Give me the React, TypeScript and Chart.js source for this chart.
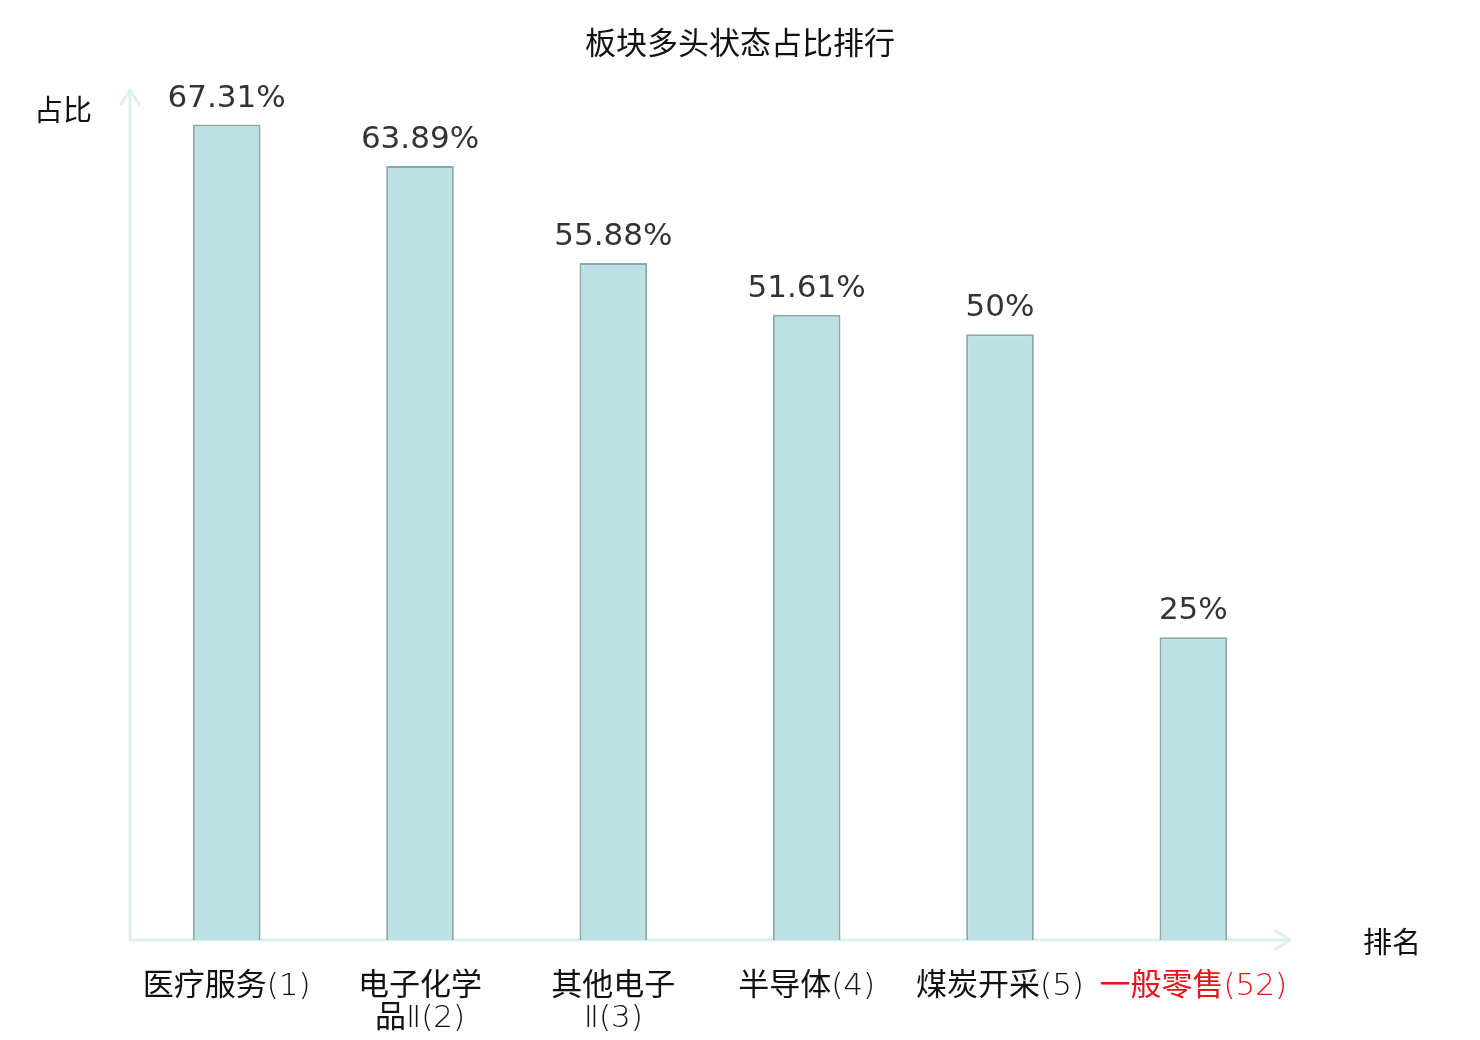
import React, { useEffect, useRef } from "react";
import { Chart, registerables } from "chart.js";

Chart.register(...registerables);

// sector names (rank in brackets), the last one is highlighted
const categories: string[][] = [
    ["医疗服务(1)"],
    ["电子化学", "品Ⅱ(2)"],
    ["其他电子", "Ⅱ(3)"],
    ["半导体(4)"],
    ["煤炭开采(5)"],
    ["一般零售(52)"],
];
const ratios = [67.31, 63.89, 55.88, 51.61, 50, 25];
const labelColors = ["#111", "#111", "#111", "#111", "#111", "#e5141b"];

const AXIS_COLOR = "#dcf1ee";
const CJK_FONT = "31px 'Noto Sans CJK SC'";
const LATIN_FONT = "200 31px 'DejaVu Sans'";

// split a label line into runs of CJK and non-CJK text
const splitRuns = (text: string) => {
    const runs: { text: string; cjk: boolean }[] = [];
    for (const ch of text) {
        const cjk = /[\u4e00-\u9fff]/.test(ch);
        const last = runs[runs.length - 1];
        if (last && last.cjk === cjk) last.text += ch;
        else runs.push({ text: ch, cjk });
    }
    return runs;
};

// draws title, arrowed axes, axis names, category and value labels
const decorations = {
    id: "decorations",
    beforeDatasetsDraw: (chart: any) => {
        const { ctx, chartArea, width } = chart;
        const { left, right, top, bottom } = chartArea;
        ctx.save();
        ctx.fillStyle = "#111";
        ctx.textAlign = "center";
        ctx.textBaseline = "middle";
        ctx.font = "31px 'Noto Sans CJK SC'";
        ctx.fillText("板块多头状态占比排行", width / 2, 42);

        ctx.strokeStyle = AXIS_COLOR;
        ctx.lineWidth = 3;
        ctx.lineCap = "round";
        ctx.lineJoin = "round";
        // y axis
        ctx.beginPath();
        ctx.moveTo(left, bottom);
        ctx.lineTo(left, top - 2);
        ctx.moveTo(left - 9, top + 12);
        ctx.lineTo(left, top - 2);
        ctx.lineTo(left + 9, top + 12);
        // x axis
        ctx.moveTo(left, bottom);
        ctx.lineTo(right, bottom);
        ctx.moveTo(right - 14, bottom - 9);
        ctx.lineTo(right, bottom);
        ctx.lineTo(right - 14, bottom + 9);
        ctx.stroke();

        ctx.font = "29px 'Noto Sans CJK SC'";
        ctx.fillText("占比", left - 67, top + 18);
        ctx.fillText("排名", right + 102, bottom + 2);

        // category labels, mixed fonts like the original
        const xScale = chart.scales.x;
        ctx.textAlign = "left";
        ctx.textBaseline = "alphabetic";
        categories.forEach((lines, i) => {
            const cx = xScale.getPixelForValue(i);
            ctx.fillStyle = labelColors[i];
            lines.forEach((line, j) => {
                const runs = splitRuns(line);
                const widths = runs.map((r) => {
                    ctx.font = r.cjk ? CJK_FONT : LATIN_FONT;
                    return ctx.measureText(r.text).width;
                });
                let x = cx - widths.reduce((a, b) => a + b, 0) / 2;
                const y = bottom + 55 + j * 32;
                runs.forEach((r, k) => {
                    ctx.font = r.cjk ? CJK_FONT : LATIN_FONT;
                    ctx.fillText(r.text, x, y);
                    x += widths[k];
                });
            });
        });
        ctx.restore();
    },
    afterDatasetsDraw: (chart: any) => {
        const { ctx } = chart;
        const meta = chart.getDatasetMeta(0);
        ctx.save();
        ctx.fillStyle = "#333";
        ctx.font = "31px 'DejaVu Sans'";
        ctx.textAlign = "center";
        ctx.textBaseline = "alphabetic";
        meta.data.forEach((bar: any, i: number) => {
            ctx.fillText(ratios[i] + "%", bar.x, bar.y - 18);
        });
        ctx.restore();
    },
};

const App: React.FC = () => {
    const canvasRef = useRef<HTMLCanvasElement | null>(null);

    useEffect(() => {
        if (!canvasRef.current) return;
        const chart = new Chart(canvasRef.current, {
            type: "bar",
            data: {
                labels: categories,
                datasets: [
                    {
                        data: ratios,
                        backgroundColor: "#bce0e3",
                        borderColor: "#8aa9aa",
                        borderWidth: 2,
                        barPercentage: 0.35,
                        categoryPercentage: 1,
                    },
                ],
            },
            options: {
                animation: false,
                responsive: false,
                devicePixelRatio: 1,
                layout: { padding: { left: 130, right: 190, top: 92, bottom: 0 } },
                plugins: {
                    legend: { display: false },
                    tooltip: { enabled: false },
                },
                scales: {
                    y: { display: false, min: 0, max: 70 },
                    x: {
                        grid: { display: false, drawTicks: false },
                        border: { display: false },
                        ticks: { display: false },
                        afterFit: (scale: any) => {
                            scale.height = 100;
                        },
                    },
                },
            },
            plugins: [decorations],
        });
        return () => chart.destroy();
    }, []);

    return (
        <div style={{ position: "fixed", left: 0, top: 0, width: 1480, height: 1040, background: "#fff" }}>
            <canvas ref={canvasRef} width={1480} height={1040} />
        </div>
    );
};

export default App;
